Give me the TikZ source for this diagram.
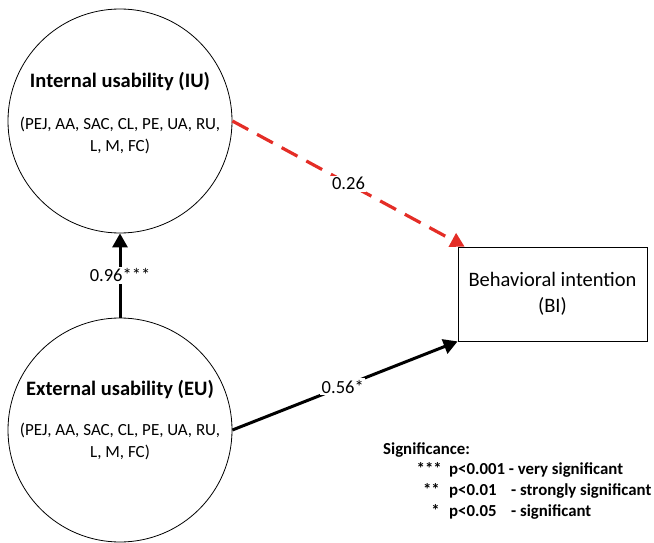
\documentclass[tikz,border=0pt]{standalone}
\usepackage{fontspec}
\setmainfont{Carlito}
\usetikzlibrary{arrows.meta,calc}
\begin{document}
\begin{tikzpicture}[x=1pt,y=-1pt,
  construct/.style={draw, line width=0.8pt, circle, minimum size=224pt, inner sep=0pt},
  titletext/.style={font=\fontsize{20.5}{24}\selectfont\bfseries},
  listtext/.style={font=\fontsize{17}{22}\selectfont, align=center},
  pathlabel/.style={font=\fontsize{18.5}{20}\selectfont, fill=white, inner sep=1.5pt},
  strongarrow/.style={line width=3pt, -{Triangle[length=14pt,width=15pt]}},
  weakarrow/.style={line width=3.2pt, draw={rgb,255:red,228;green,45;blue,38}, dash pattern=on 18pt off 10pt, -{Triangle[length=14pt,width=15pt]}},
  legend/.style={font=\fontsize{16.8}{20}\selectfont\bfseries, anchor=base west, inner sep=0pt}]
\useasboundingbox (0,0) rectangle (654,543);

\node[construct] (IU) at (120,121) {};
\node[titletext] (IUt) at (120,82) {Internal usability (IU)};
\node[listtext] (IUl) at (120,135) {(PEJ, AA, SAC, CL, PE, UA, RU,\\L, M, FC)};

\node[construct] (EU) at (120,430) {};
\node[titletext] (EUt) at (120,390) {External usability (EU)};
\node[listtext] (EUl) at (120,441) {(PEJ, AA, SAC, CL, PE, UA, RU,\\L, M, FC)};

\node[draw, line width=0.8pt, minimum width=189pt, minimum height=94pt, align=center,
      font=\fontsize{20.5}{26}\selectfont] (BI) at (552.5,294) {Behavioral intention\\(BI)};
\coordinate (BItip) at ($(BI.north west)+(7,0)$);

\draw[strongarrow] (EU.north) -- (IU.south) node[pathlabel, pos=0.5] {0.96***};
\draw[weakarrow] (IU.east) -- (BItip) node[pathlabel, pos=0.5, text=black] {0.26};
\draw[strongarrow] (EU.east) -- (BI.south west) node[pathlabel, pos=0.49] {0.56*};

\node[legend] (sig) at (383,454) {Significance:};
\node[legend, anchor=base east] (s1) at (442,474) {***};
\node[legend, anchor=base east] (s2) at (440,495) {**};
\node[legend, anchor=base east] (s3) at (440,516) {*};
\node[legend] (p1) at (449,474) {p<0.001 - very significant};
\node[legend] (p2) at (449,495) {p<0.01};
\node[legend] (p3) at (449,516) {p<0.05};
\node[legend] (d2) at (511,495) {- strongly significant};
\node[legend] (d3) at (511,516) {- significant};
\end{tikzpicture}
\end{document}
